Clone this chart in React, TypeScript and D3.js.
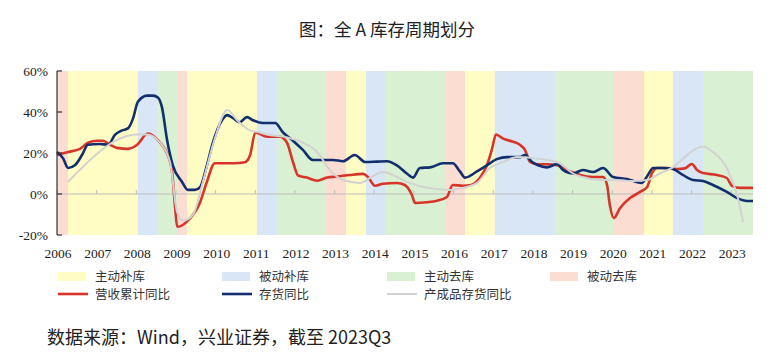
import * as d3 from "d3"

// inventory cycle phases: start of each phase in decimal years, with its type
const phaseStarts = [2006.0, 2006.28, 2008.04, 2008.55, 2009.05, 2009.28, 2011.04, 2011.55, 2012.78, 2013.29, 2013.79, 2014.27, 2015.81, 2016.29, 2017.04, 2018.56, 2020.02, 2020.8, 2021.53, 2022.31]
const phaseTypes = ["pd", "ab", "pb", "ad", "pd", "ab", "pb", "ad", "pd", "ab", "pb", "ad", "pd", "ab", "pb", "ad", "pd", "ab", "pb", "ad"]
const endYear = 2023.55

const phaseLabels: Record<string, string> = { ab: "主动补库", pb: "被动补库", ad: "主动去库", pd: "被动去库" }
const phaseColors: Record<string, string> = { ab: "#FFFCC4", pb: "#D8E6F5", ad: "#DAF0D2", pd: "#FCDDD1" }

const years = d3.range(2006, 2024)
const yTicks = [-20, 0, 20, 40, 60]

// 营收累计同比
const revenue: [number, number][] = [
  [2006.0, 19], [2006.28, 20.5], [2006.58, 22], [2006.78, 25], [2007.01, 26], [2007.16, 26], [2007.34, 24], [2007.51, 22.5],
  [2007.79, 22], [2008.02, 24], [2008.29, 29.5], [2008.6, 25], [2008.77, 20], [2008.9, 11], [2008.98, -7], [2009.03, -16],
  [2009.18, -15], [2009.3, -13], [2009.61, -4], [2009.78, 6], [2009.98, 15], [2010.44, 15], [2010.74, 15.5], [2010.87, 19],
  [2011.0, 30], [2011.3, 28], [2011.62, 28], [2011.8, 25], [2011.95, 15.6], [2012.08, 9], [2012.3, 8], [2012.56, 6.5],
  [2012.81, 8], [2013.06, 8.5], [2013.39, 9.3], [2013.72, 9.8], [2013.84, 8.3], [2014.02, 4], [2014.22, 5], [2014.57, 5.4],
  [2014.77, 4.4], [2014.95, -0.5], [2015.03, -4.4], [2015.33, -4], [2015.58, -3.3], [2015.83, -1.5], [2015.98, 4.4], [2016.24, 4],
  [2016.46, 4.5], [2016.67, 8], [2016.84, 14], [2016.97, 22], [2017.07, 29], [2017.25, 27], [2017.5, 25.5], [2017.67, 24],
  [2017.8, 21.5], [2017.93, 15.6], [2018.1, 14.5], [2018.35, 14.5], [2018.61, 14], [2018.86, 11.7], [2019.19, 9.3], [2019.51, 8.3],
  [2019.77, 8.3], [2019.87, 4.4], [2019.94, -5.4], [2020.04, -11.7], [2020.2, -6.8], [2020.45, -2], [2020.7, 1], [2020.88, 3.4],
  [2021.0, 10], [2021.13, 12.7], [2021.38, 12.7], [2021.63, 12.2], [2021.83, 12.5], [2022.01, 14.6], [2022.14, 11.7], [2022.29, 10.2],
  [2022.64, 9.3], [2022.89, 7.8], [2023.02, 4], [2023.22, 3], [2023.55, 3],
]

// 存货同比
const inventory: [number, number][] = [
  [2006.0, 20.5], [2006.15, 17.5], [2006.28, 12.7], [2006.45, 14], [2006.63, 19], [2006.78, 24], [2007.08, 24.4], [2007.29, 24],
  [2007.46, 28.8], [2007.64, 31], [2007.79, 32], [2007.92, 37], [2008.04, 45], [2008.27, 48], [2008.42, 48], [2008.55, 47],
  [2008.65, 42], [2008.77, 27], [2008.92, 14], [2009.15, 6], [2009.3, 2], [2009.48, 2], [2009.61, 3.4], [2009.78, 14],
  [2009.93, 25], [2010.16, 36], [2010.29, 38.5], [2010.44, 37], [2010.61, 35], [2010.79, 37.5], [2010.94, 36], [2011.19, 34.6],
  [2011.5, 34.6], [2011.7, 30], [2011.95, 26], [2012.2, 21.5], [2012.45, 16.6], [2012.63, 16.6], [2012.96, 16.6], [2013.21, 16],
  [2013.51, 19], [2013.77, 15.6], [2014.07, 15.8], [2014.32, 16], [2014.57, 14], [2014.82, 10], [2014.98, 8], [2015.15, 12.7],
  [2015.41, 13], [2015.73, 15], [2015.98, 15], [2016.16, 11], [2016.29, 8], [2016.59, 11], [2016.84, 14], [2017.09, 17],
  [2017.35, 18], [2017.67, 18], [2017.8, 19], [2017.98, 15.6], [2018.13, 14], [2018.35, 13], [2018.61, 14.6], [2018.76, 11.7],
  [2019.01, 10], [2019.26, 11.7], [2019.51, 10.7], [2019.77, 12.7], [2020.02, 8.3], [2020.37, 7.3], [2020.75, 5.4], [2020.9, 9.3],
  [2021.03, 12.7], [2021.28, 12.7], [2021.53, 12.2], [2021.78, 9.3], [2022.04, 6.8], [2022.29, 6.3], [2022.54, 4.4], [2022.89, 1],
  [2023.15, -2], [2023.4, -3.4], [2023.55, -3.4],
]

// 产成品存货同比
const finished: [number, number][] = [
  [2006.28, 6], [2008.02, 29], [2008.27, 29], [2008.6, 25], [2008.85, 15.6], [2009.03, -9], [2009.18, -13], [2009.43, -10],
  [2009.68, 6], [2009.98, 27], [2010.29, 41], [2010.54, 36], [2010.87, 31], [2011.12, 30], [2011.3, 29], [2011.7, 28],
  [2012.2, 25], [2012.56, 20.5], [2012.88, 11.7], [2013.21, 6.8], [2013.64, 5.4], [2013.89, 7.8], [2014.22, 10.7], [2014.57, 8.3],
  [2014.9, 5.4], [2015.33, 3], [2015.91, 2], [2016.24, 3], [2016.59, 5.4], [2016.92, 12.7], [2017.25, 15.6], [2017.6, 18],
  [2018.0, 17.5], [2018.35, 16.6], [2018.68, 15], [2019.01, 10], [2019.36, 7.8], [2019.69, 6.8], [2020.02, 6.8], [2020.52, 6.3],
  [2020.88, 6.8], [2021.2, 10], [2021.53, 13], [2021.89, 19], [2022.14, 22.4], [2022.29, 23], [2022.54, 20.5], [2022.89, 12.7],
  [2023.15, -0.5], [2023.3, -13.7],
]

const seriesNames = ["营收累计同比", "存货同比", "产成品存货同比"]
const seriesColors = ["#D8352A", "#112E6E", "#D2D2D2"]

export default function App() {
  const width = 777
  const height = 364
  const left = 57
  const right = 753
  const top = 71
  const bottom = 235

  const x = d3.scaleLinear().domain([2006, endYear]).range([left, right])
  const y = d3.scaleLinear().domain([-20, 60]).range([bottom, top])

  const line = d3
    .line<[number, number]>()
    .x((d) => x(d[0]))
    .y((d) => y(d[1]))
    .curve(d3.curveMonotoneX)

  const cjk = "'Noto Sans CJK SC', 'Noto Sans', sans-serif"
  const serif = "'Liberation Serif', 'DejaVu Serif', serif"
  const series = [revenue, inventory, finished]

  // legend layout
  const legendCols = [58, 222, 387, 550]
  const legendTypes = ["ab", "pb", "ad", "pd"]

  return (
    <svg width={width} height={height} style={{ position: "absolute", left: 0, top: 0, background: "#fff" }}>
      <text x={387} y={36} textAnchor="middle" fontFamily={cjk} fontSize={17.5} fill="#222">
        图：全 A 库存周期划分
      </text>

      {/* phase shading */}
      {phaseStarts.map((s, i) => {
        const e = i < phaseStarts.length - 1 ? phaseStarts[i + 1] : endYear
        return (
          <rect key={i} x={x(s)} y={top} width={x(e) - x(s)} height={bottom - top} fill={phaseColors[phaseTypes[i]]} />
        )
      })}

      {/* zero line with year ticks */}
      <line x1={left} x2={right} y1={y(0)} y2={y(0)} stroke="#BDBDBD" strokeWidth={1} />
      {years.map((yr) => (
        <line key={yr} x1={x(yr)} x2={x(yr)} y1={y(0)} y2={y(0) - 4} stroke="#BDBDBD" strokeWidth={1} />
      ))}

      {/* lines */}
      {series.map((s, i) => (
        <path key={i} d={line(s) || ""} fill="none" stroke={seriesColors[i]} strokeWidth={i === 2 ? 2 : 2.6} strokeLinejoin="round" />
      ))}

      {/* y axis */}
      <line x1={left} x2={left} y1={top} y2={bottom} stroke="#333" strokeWidth={1.2} />
      {yTicks.map((t) => (
        <g key={t}>
          <line x1={left} x2={left + 5} y1={y(t)} y2={y(t)} stroke="#333" strokeWidth={1.2} />
          <text x={48} y={y(t) + 4.5} textAnchor="end" fontFamily={serif} fontSize={13.5} fill="#222">
            {t}%
          </text>
        </g>
      ))}

      {/* x labels */}
      {years.map((yr) => (
        <text key={yr} x={x(yr) + 1} y={258} textAnchor="middle" fontFamily={serif} fontSize={13.5} fill="#222">
          {yr}
        </text>
      ))}

      {/* legend */}
      {legendTypes.map((t, i) => (
        <g key={t}>
          <rect x={legendCols[i]} y={272} width={28} height={9} fill={phaseColors[t]} />
          <text x={legendCols[i] + 37} y={280.5} fontFamily={cjk} fontSize={12.5} fill="#333">
            {phaseLabels[t]}
          </text>
        </g>
      ))}
      {seriesNames.map((n, i) => (
        <g key={n}>
          <line x1={legendCols[i]} x2={legendCols[i] + 30} y1={294} y2={294} stroke={seriesColors[i]} strokeWidth={i === 2 ? 2 : 2.6} />
          <text x={legendCols[i] + 37} y={298.5} fontFamily={cjk} fontSize={12.5} fill="#333">
            {n}
          </text>
        </g>
      ))}

      <text x={47} y={344} fontFamily={cjk} fontSize={18} fill="#222">
        数据来源：Wind，兴业证券，截至 2023Q3
      </text>
    </svg>
  )
}
